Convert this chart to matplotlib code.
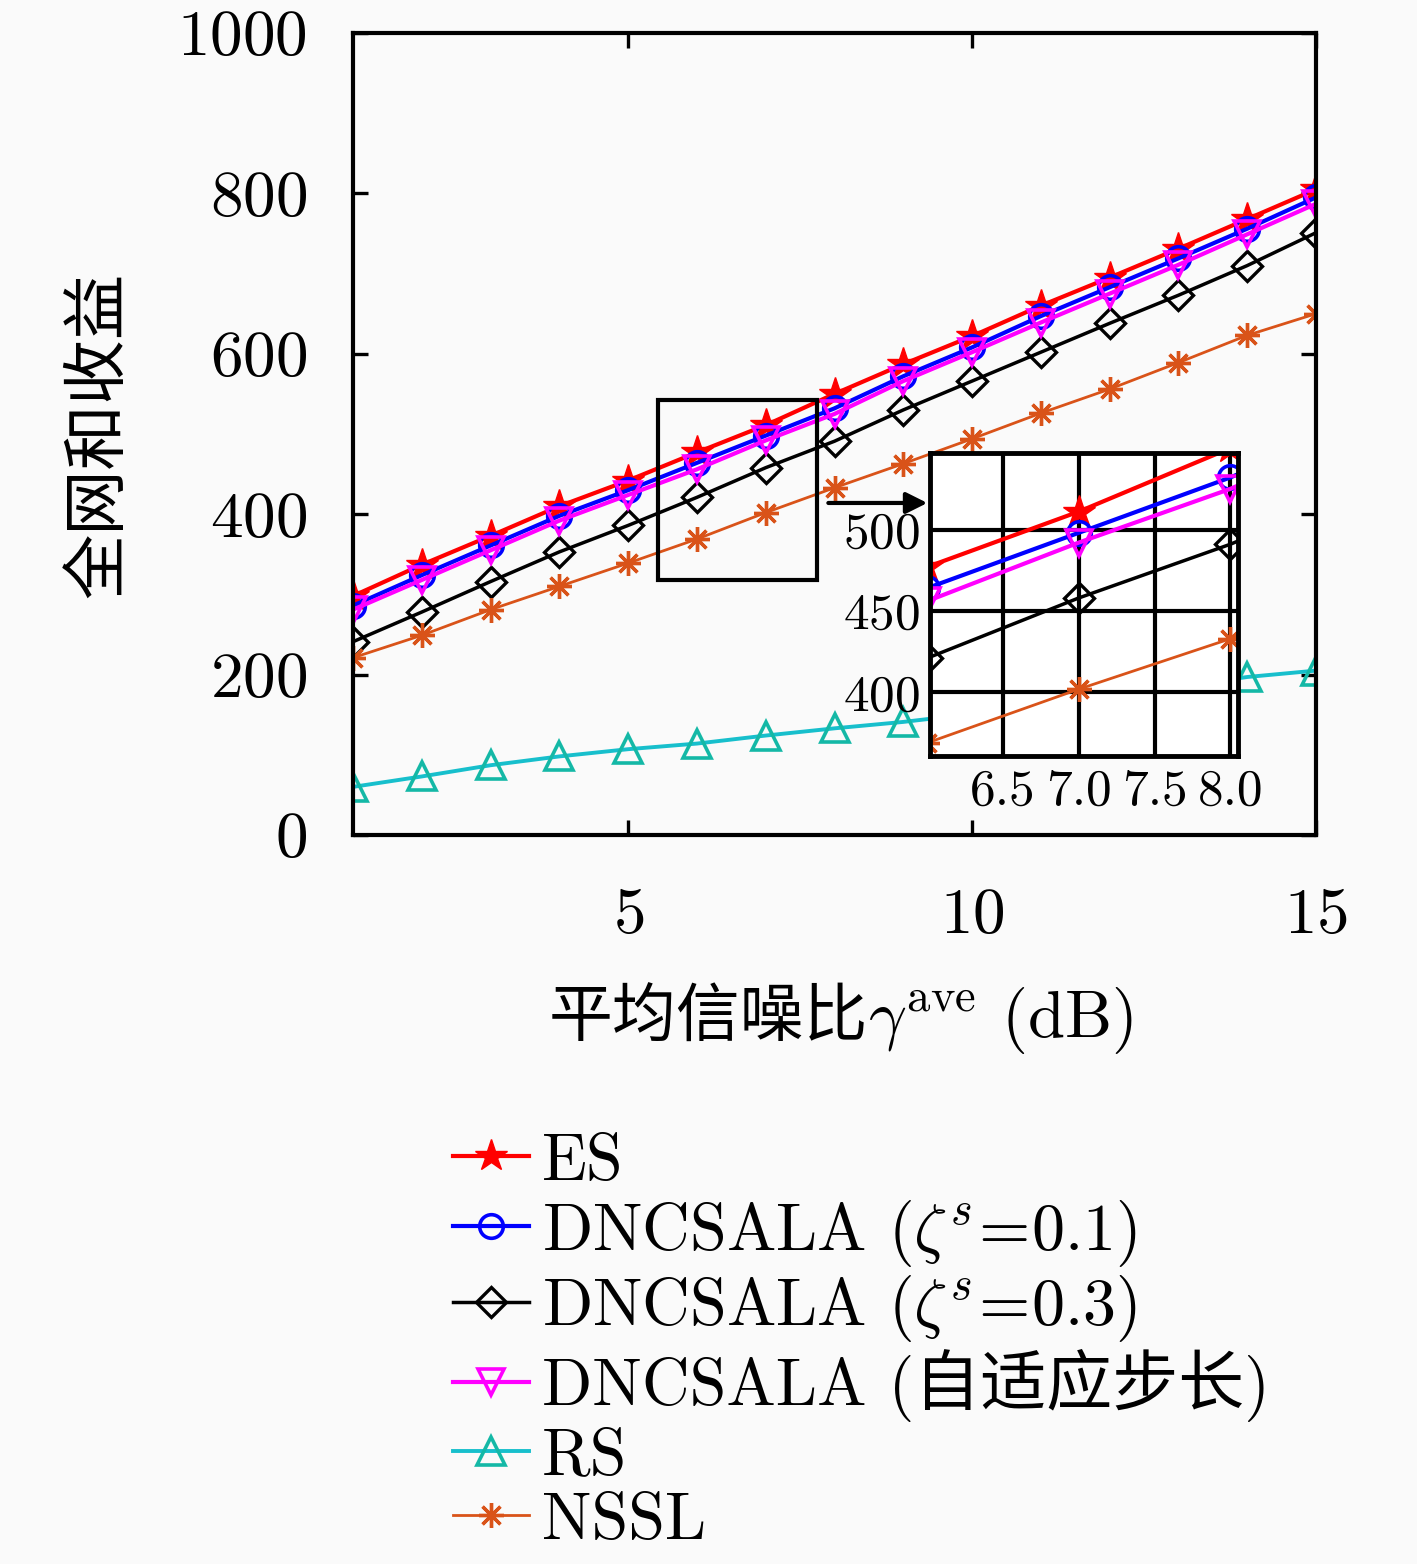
import matplotlib
matplotlib.use("Agg")
import matplotlib.pyplot as plt
from matplotlib.patches import Rectangle

plt.rcParams['font.family'] = ['cmr10', 'Noto Sans CJK SC', 'DejaVu Sans']
plt.rcParams['mathtext.fontset'] = 'cm'
plt.rcParams['axes.unicode_minus'] = False
plt.rcParams['axes.formatter.use_mathtext'] = True

# ---------------- data ----------------
snr = [1, 2, 3, 4, 5, 6, 7, 8, 9, 10, 11, 12, 13, 14, 15]
es = [298, 337, 373, 410, 442, 477, 511, 550, 587, 622, 660, 695, 731, 768, 805]
dn01 = [286, 324, 361, 398, 430, 464, 498, 532, 572, 608, 647, 683, 719, 756, 795]
dn03 = [241, 278, 316, 353, 386, 421, 458, 491, 530, 566, 602, 638, 673, 710, 751]
adapt = [281, 318, 355, 392, 424, 456, 492, 525, 566, 602, 639, 675, 711, 749, 787]
rs = [60, 73, 87, 98, 107, 114, 124, 133, 141, 151, 162, 173, 185, 197, 205]
nssl = [221, 249, 281, 310, 339, 369, 402, 433, 463, 494, 526, 556, 589, 623, 650]

labels = ['ES',
          r'DNCSALA ($\zeta^{s}\!=\!0.1$)',
          r'DNCSALA ($\zeta^{s}\!=\!0.3$)',
          'DNCSALA (自适应步长)',
          'RS',
          'NSSL']
xlabel_cn = '平均信噪比'
xlabel_math = r'$\gamma^{\mathrm{ave}}$ (dB)'
ylabel = '全网和收益'
xticks = [5, 10, 15]
yticks = [0, 200, 400, 600, 800, 1000]
inset_xticks = [6.5, 7.0, 7.5, 8.0]
inset_yticks = [400, 450, 500]

bg = '#fafafa'
styles = [
    dict(color='#ff0000', marker='*', ms=24, mfc='#ff0000', mec='#ff0000', lw=3.0),
    dict(color='#0000ff', marker='o', ms=17, mfc='none', mec='#0000ff', mew=2.6, lw=3.0),
    dict(color='#000000', marker='D', ms=15, mfc='none', mec='#000000', mew=2.4, lw=2.5),
    dict(color='#ff00ff', marker='v', ms=19, mfc='none', mec='#ff00ff', mew=2.6, lw=3.0),
    dict(color='#17bfcc', marker='^', ms=20, mfc='none', mec='#14b8a6', mew=2.6, lw=2.8),
    dict(color='#d95319', marker=(8, 2, 0), ms=18, mfc='#d95319', mec='#d95319', mew=2.4, lw=2.0),
]
series = [es, dn01, dn03, adapt, rs, nssl]

fig = plt.figure(figsize=(14.17, 15.64), dpi=100, facecolor=bg)
ax = fig.add_axes([353/1417, 1-835/1564, (1316-353)/1417, (835-33)/1564], facecolor=bg)

handles = []
for ys, st, lab in zip(series, styles, labels):
    h, = ax.plot(snr, ys, label=lab, **st)
    handles.append(h)

ax.set_xlim(1, 15)
ax.set_ylim(0, 1000)
ax.set_xticks(xticks)
ax.set_yticks(yticks)
ax.tick_params(direction='in', length=11, width=2.4, labelsize=47, top=True, right=True)
ax.tick_params(axis='y', pad=33)
ax.tick_params(axis='x', pad=38)
for s in ax.spines.values():
    s.set_linewidth(3)

# zoom rectangle and arrow
ax.add_patch(Rectangle((5.44, 318), 7.74-5.44, 542-318, fill=False, ec='black', lw=3, zorder=5))
ax.annotate('', xy=(9.39, 414), xytext=(7.87, 414),
            arrowprops=dict(arrowstyle='-|>', color='black', lw=3, mutation_scale=32), zorder=6)

# inset
axi = fig.add_axes([930/1417, 1-756/1564, (1238-930)/1417, (756-453)/1564], facecolor='white')
axi.set_zorder(10)
for ys, st in zip(series, styles):
    axi.plot(snr, ys, **st)
axi.set_xlim(6.02, 8.05)
axi.set_ylim(361, 547)
axi.set_xticks(inset_xticks)
axi.set_xticklabels(['%.1f' % v for v in inset_xticks])
axi.set_yticks(inset_yticks)
axi.grid(True, color='black', lw=3)
axi.set_axisbelow(True)
axi.tick_params(direction='in', length=0, labelsize=37, pad=7)
axi.tick_params(axis='x', pad=9)
for s in axi.spines.values():
    s.set_linewidth(3.5)

# axis labels
fig.text(868/1417, 1-1020/1564, xlabel_cn, fontsize=46, ha='right', va='center')
fig.text(868/1417, 1-1020/1564, xlabel_math, fontsize=48, ha='left', va='center')
fig.text(100/1417, 1-435/1564, ylabel, fontsize=47, rotation=90,
         ha='center', va='center')

# legend
fig.legend(handles=handles, labels=labels, loc='upper left',
           bbox_to_anchor=(453/1417, 1-1133/1564), frameon=False,
           fontsize=47.5, handlelength=1.15, handletextpad=0.2,
           labelspacing=0.075, borderpad=0, borderaxespad=0)

fig.savefig('out.png', dpi=100, facecolor=bg)
